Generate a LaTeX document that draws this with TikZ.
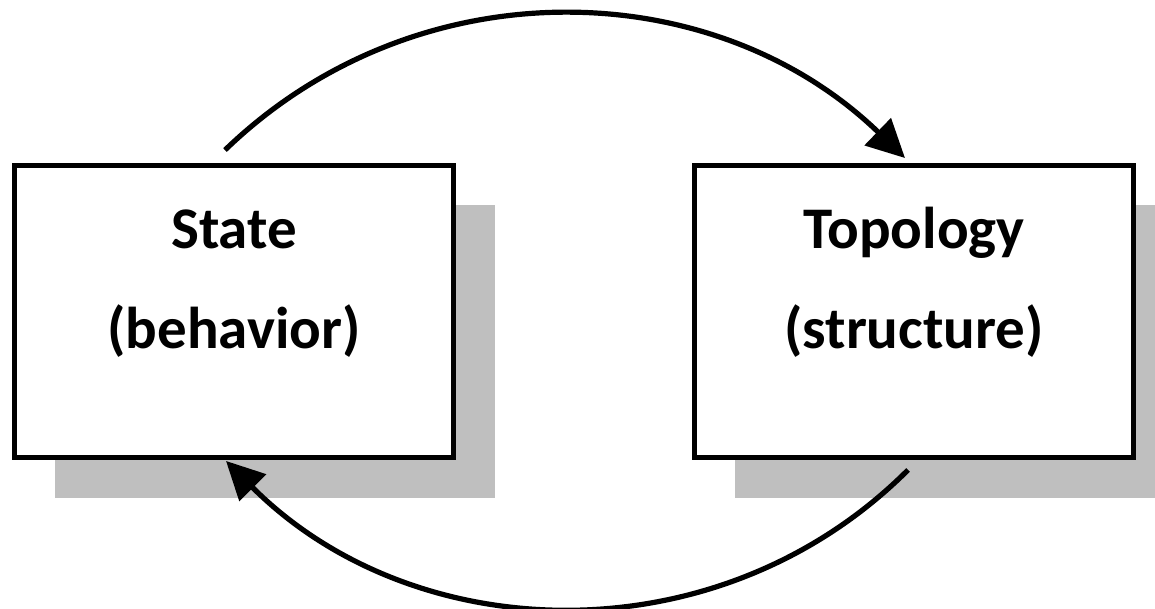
\documentclass[tikz,border=0pt]{standalone}
\usepackage{fontspec}
\setmainfont{Carlito}
\usepackage{tikz}
\usetikzlibrary{arrows.meta, shadows}

\begin{document}
\begin{tikzpicture}[x=0.5pt, y=0.5pt,
    box/.style={draw, line width=2.25pt, fill=white, minimum width=219.7pt, minimum height=146.2pt,
        drop shadow={shadow xshift=20.5pt, shadow yshift=-20pt, fill=black!25, opacity=1}},
    boxtext/.style={align=center, anchor=base, font=\fontsize{29.5}{50}\bfseries\selectfont},
    cycle/.style={line width=2.6pt, -{Triangle[length=19pt, width=18.5pt]}}]
    \useasboundingbox (0,0) rectangle (1155,609);

    % Boxes
    \node[box] (state) at (234,297.5) {};
    \node[box] (topo) at (914,297.5) {};
    \node[boxtext] (statetext) at (234,260) {State\\(behavior)};
    \node[boxtext] (topotext) at (914,260) {Topology\\(structure)};

    % Arrows
    \draw[cycle] ([shift={(-9,13)}]state.north) to[out=44, in=136] ([shift={(-9,5)}]topo.north);
    \draw[cycle] ([shift={(-6,-10)}]topo.south) to[out=225, in=-45] ([shift={(-8,-1)}]state.south);
\end{tikzpicture}
\end{document}
